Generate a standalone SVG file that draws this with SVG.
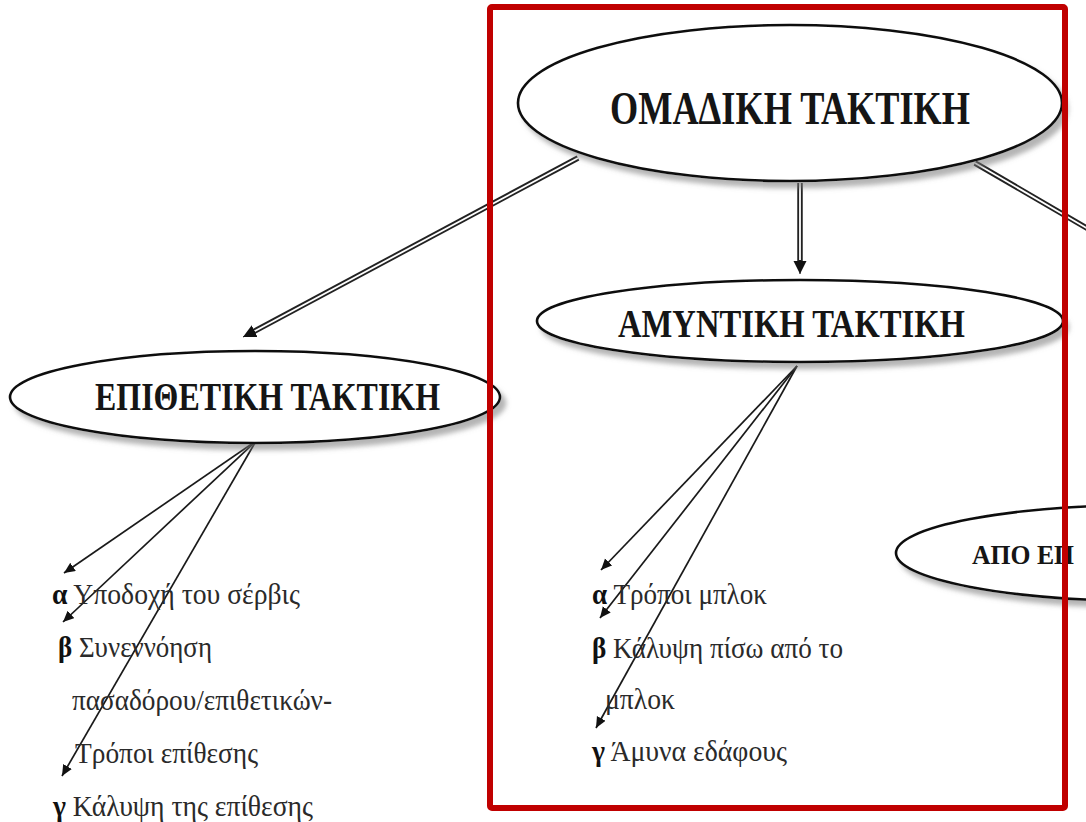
<svg xmlns="http://www.w3.org/2000/svg" width="1086" height="822" viewBox="0 0 1086 822">
<style>
.node ellipse{fill:#fff;stroke:#111;stroke-width:2.6}
.title{font-family:"Liberation Serif","Times New Roman",serif;font-weight:bold;fill:#151515}
.item{font-family:"Liberation Serif","Times New Roman",serif;font-size:29px;fill:#2a2a2a}
.item .b{font-weight:bold;fill:#111}
.thin{stroke:#1a1a1a;stroke-width:1.7;fill:none}
.dbl{stroke:#222;stroke-width:5.5;fill:none}
.dbl-in{stroke:#fff;stroke-width:1.8;fill:none}
</style>
<defs>
<filter id="sh" x="-10%" y="-20%" width="125%" height="150%">
<feDropShadow dx="5" dy="6" stdDeviation="2.5" flood-color="#777" flood-opacity="0.55"/>
</filter>
<marker id="ah" markerUnits="userSpaceOnUse" markerWidth="14" markerHeight="12" refX="11" refY="5" orient="auto">
<path d="M0,0 L11,5 L0,10 z" fill="#111"/>
</marker>
<marker id="ahb" markerUnits="userSpaceOnUse" markerWidth="16" markerHeight="14" refX="13" refY="6.5" orient="auto">
<path d="M0,0 L13,6.5 L0,13 z" fill="#111"/>
</marker>
</defs>
<rect width="1086" height="822" fill="#fff"/>

<g id="connectors">
<path class="dbl" d="M578,158 L251,333"/>
<path class="dbl-in" d="M578,158 L253,332"/>
<path d="M255,331 L243,337" stroke="#111" stroke-width="1" marker-end="url(#ahb)"/>
<path class="dbl" d="M800,183 L800,262"/>
<path class="dbl-in" d="M800,183 L800,260"/>
<path d="M800,260 L800,274" stroke="#111" stroke-width="1" marker-end="url(#ahb)"/>
<path class="dbl" d="M975,163 L1090,230"/>
<path class="dbl-in" d="M975,163 L1090,230"/>
<path class="thin" d="M256,441 L64,573" marker-end="url(#ah)"/>
<path class="thin" d="M256,441 L63,622" marker-end="url(#ah)"/>
<path class="thin" d="M256,441 L62,776" marker-end="url(#ah)"/>
<path class="thin" d="M797,366 L601,570" marker-end="url(#ah)"/>
<path class="thin" d="M797,366 L600,618" marker-end="url(#ah)"/>
<path class="thin" d="M797,366 L596,728" marker-end="url(#ah)"/>
</g>

<g id="node-omadiki" class="node">
<ellipse cx="790" cy="103" rx="272" ry="78" filter="url(#sh)"/>
<text class="title" x="610" y="124" font-size="46" textLength="360" lengthAdjust="spacingAndGlyphs">ΟΜΑΔΙΚΗ ΤΑΚΤΙΚΗ</text>
</g>

<g id="node-epithetiki" class="node">
<ellipse cx="255" cy="397" rx="245" ry="46" filter="url(#sh)"/>
<text class="title" x="95" y="410" font-size="40" textLength="345" lengthAdjust="spacingAndGlyphs">ΕΠΙΘΕΤΙΚΗ ΤΑΚΤΙΚΗ</text>
</g>

<g id="node-amyntiki" class="node">
<ellipse cx="800" cy="321" rx="263" ry="41" filter="url(#sh)"/>
<text class="title" x="618" y="337" font-size="40" textLength="347" lengthAdjust="spacingAndGlyphs">ΑΜΥΝΤΙΚΗ ΤΑΚΤΙΚΗ</text>
</g>

<g id="node-apo" class="node">
<ellipse cx="1150" cy="553" rx="254" ry="48" filter="url(#sh)"/>
<text class="title" x="972" y="564" font-size="28" textLength="102" lengthAdjust="spacingAndGlyphs">ΑΠΟ ΕΠ</text>
</g>

<g id="list-epithetiki" class="item">
<text x="52" y="604" textLength="248" lengthAdjust="spacingAndGlyphs"><tspan class="b">α</tspan> Υποδοχή του σέρβις</text>
<text x="58" y="657" textLength="154" lengthAdjust="spacingAndGlyphs"><tspan class="b">β</tspan> Συνεννόηση</text>
<text x="72" y="710" textLength="260" lengthAdjust="spacingAndGlyphs">πασαδόρου/επιθετικών-</text>
<text x="75" y="763" textLength="183" lengthAdjust="spacingAndGlyphs">Τρόποι επίθεσης</text>
<text x="53" y="816" textLength="260" lengthAdjust="spacingAndGlyphs"><tspan class="b">γ</tspan> Κάλυψη της επίθεσης</text>
</g>

<g id="list-amyntiki" class="item">
<text x="592" y="604" textLength="175" lengthAdjust="spacingAndGlyphs"><tspan class="b">α</tspan> Τρόποι μπλοκ</text>
<text x="592" y="658" textLength="251" lengthAdjust="spacingAndGlyphs"><tspan class="b">β</tspan> Κάλυψη πίσω από το</text>
<text x="605" y="709" textLength="70" lengthAdjust="spacingAndGlyphs">μπλοκ</text>
<text x="592" y="761" textLength="195" lengthAdjust="spacingAndGlyphs"><tspan class="b">γ</tspan> Άμυνα εδάφους</text>
</g>

<rect id="highlight" x="490" y="7" width="575" height="801" fill="none" stroke="#c00000" stroke-width="6" rx="2"/>
</svg>
